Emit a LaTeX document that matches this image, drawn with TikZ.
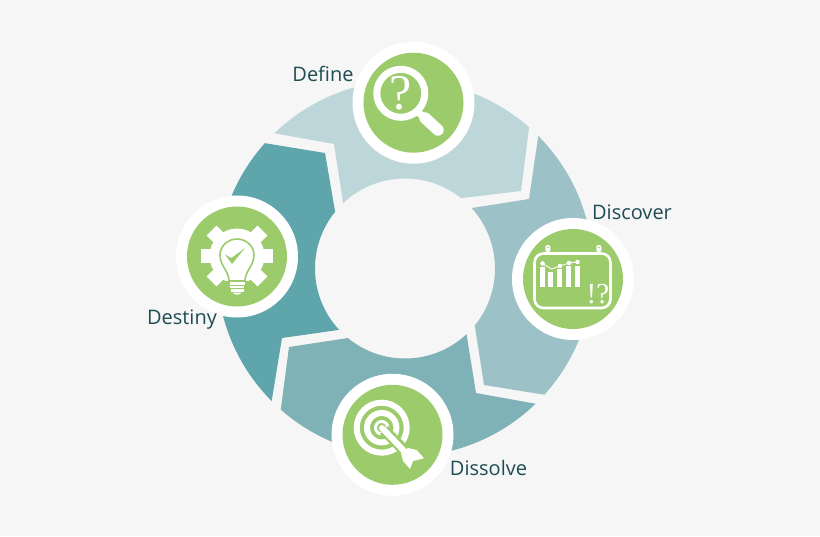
\documentclass[tikz,border=0pt]{standalone}
\usepackage{fontspec}
\setmainfont{Open Sans}
\newfontfamily\glyphfont{Liberation Serif}
\definecolor{bgc}{HTML}{F6F6F6}
\definecolor{segA}{HTML}{BCD6D9}
\definecolor{segB}{HTML}{9CC2C7}
\definecolor{segC}{HTML}{7FB2B6}
\definecolor{segD}{HTML}{5EA6AB}
\definecolor{leaf}{HTML}{9CCB6B}
\definecolor{ink}{HTML}{1D4C52}
\newcommand{\ringseg}[2]{\begin{scope}\clip #2 -- cycle;
  \fill[#1,even odd rule] (405,268.5) circle[radius=188] (405,268.5) circle[radius=90];\end{scope}}
\tikzset{
  badge/.style={circle,fill=white,draw=none,minimum size=122pt,inner sep=0pt},
  disc/.style={circle,fill=leaf,draw=none,minimum size=100pt,inner sep=0pt},
  lab/.style={text=ink,font=\fontsize{20}{24}\selectfont,inner sep=0pt},
  glyphmark/.style={text=white,inner sep=0pt}
}
\begin{document}
\begin{tikzpicture}[x=1pt,y=-1pt]
\fill[bgc] (0,0) rectangle (820,536);
\useasboundingbox (0,0) rectangle (820,536);
% ring segments
\ringseg{segA}{(212,122)--(334,144)--(352,260)--(403,205)--(521,191)--(537,65)--(537,0)--(212,0)}
\ringseg{segB}{(547,77)--(529,199)--(415,217)--(466,269)--(484,385)--(608,405)--(700,405)--(700,77)}
\ringseg{segC}{(273,469)--(289,347)--(407,329)--(458,281)--(476,393)--(598,415)--(598,520)--(273,520)}
\ringseg{segD}{(203,133)--(325,153)--(345,269)--(394,322)--(282,338)--(262,460)--(150,460)--(150,133)}
% badges
\node[badge] (b1) at (413.5,102.7) {};
\node[disc]  (d1) at (413.5,102.7) {};
\node[badge] (b2) at (573,279) {};
\node[disc]  (d2) at (573,279) {};
\node[badge] (b3) at (392.5,434.8) {};
\node[disc]  (d3) at (392.5,434.8) {};
\node[badge] (b4) at (237,256.5) {};
\node[disc]  (d4) at (237,256.5) {};
% labels
\node[lab] (t1) at (323,73.5) {Define};
\node[lab] (t2) at (632,212.5) {Discover};
\node[lab] (t3) at (488.5,467.5) {Dissolve};
\node[lab] (t4) at (182,319.5) {Destiny};
% magnifier
\draw[white,line width=7pt] (400.8,93.3) circle[radius=24];
\draw[white,line width=7pt] (418,112) -- (428,121);
\draw[white,line width=11.5pt,line cap=round] (425,118) -- (438,130);
\node[glyphmark,font=\glyphfont\fontsize{50}{50}\selectfont] (q1) at (400.5,93.5) {?};
% calendar
\draw[white,line width=2.6pt,rounded corners=9pt] (534.5,253.5) rectangle (610.5,308);
\fill[white,rounded corners=1.5pt] (545.3,245) rectangle (550.3,252);
\fill[white,rounded corners=1.5pt] (596.3,245) rectangle (601.3,252);
\fill[leaf] (547.8,247.5) circle[radius=0.9];
\fill[leaf] (598.8,247.5) circle[radius=0.9];
\fill[white] (540,267) rectangle (545,287.3);
\fill[white] (548.4,272) rectangle (553.2,287.3);
\fill[white] (557.2,268.5) rectangle (561.8,287.3);
\fill[white] (566,265.5) rectangle (570.7,287.3);
\fill[white] (575,265.5) rectangle (580,287.3);
\draw[white,line width=0.9pt] (542.5,263.5) -- (551.5,269) -- (560,266) -- (569,263) -- (577.5,262);
\foreach \px/\py in {542.5/263.5,560/266,569/263,577.5/262}
  \fill[white] (\px,\py) circle[radius=2.3];
\node[glyphmark,font=\glyphfont\fontsize{29}{29}\selectfont] (q2) at (598,294) {!?};
% target
\draw[white,line width=6pt] (381.7,427.7) circle[radius=25];
\draw[white,line width=6pt] (381.7,427.7) circle[radius=14.7];
\draw[white,line width=3pt] (381.7,427.7) circle[radius=6.2];
\draw[leaf,line width=11pt] (384,430) -- (412,458);
\draw[white,line width=6pt,line cap=round] (382,428) -- (408,455);
\fill[white] (408,448) -- (416.7,450) -- (424,458.3) -- (413,461) -- (410,469) -- (403,461) -- (401,453) -- cycle;
% gear and bulb
\begin{scope}[shift={(237,256)}]
  \foreach \ang in {0,45,90,135,180,225,-45}
    \draw[white,line width=14pt] (0,0) -- (\ang:36);
  \fill[white] (0,0) circle[radius=27.5];
  \fill[leaf] (-12,25) rectangle (12,42);
  \path[fill=white,draw=leaf,line width=1.6pt] (-8,25) .. controls (-8,15) and (-17,10) .. (-17,-1)
     .. controls (-17,-10) and (-9,-17) .. (0,-17)
     .. controls (9,-17) and (17,-10) .. (17,-1)
     .. controls (17,10) and (8,15) .. (8,25) -- cycle;
  \draw[white,line width=2.2pt] (-7.5,27.5) -- (7.5,27.5);
  \draw[white,line width=2.2pt] (-7,31) -- (7,31);
  \draw[white,line width=2.2pt] (-6.5,34.5) -- (6.5,34.5);
  \fill[white] (-4.5,36.5) -- (4.5,36.5) .. controls (3,39.5) and (-3,39.5) .. (-4.5,36.5) -- cycle;
  \fill[leaf] (-12,-1.5) -- (-5.5,2) -- (8,-8) -- (-5,8) -- cycle;
\end{scope}
\end{tikzpicture}
\end{document}
